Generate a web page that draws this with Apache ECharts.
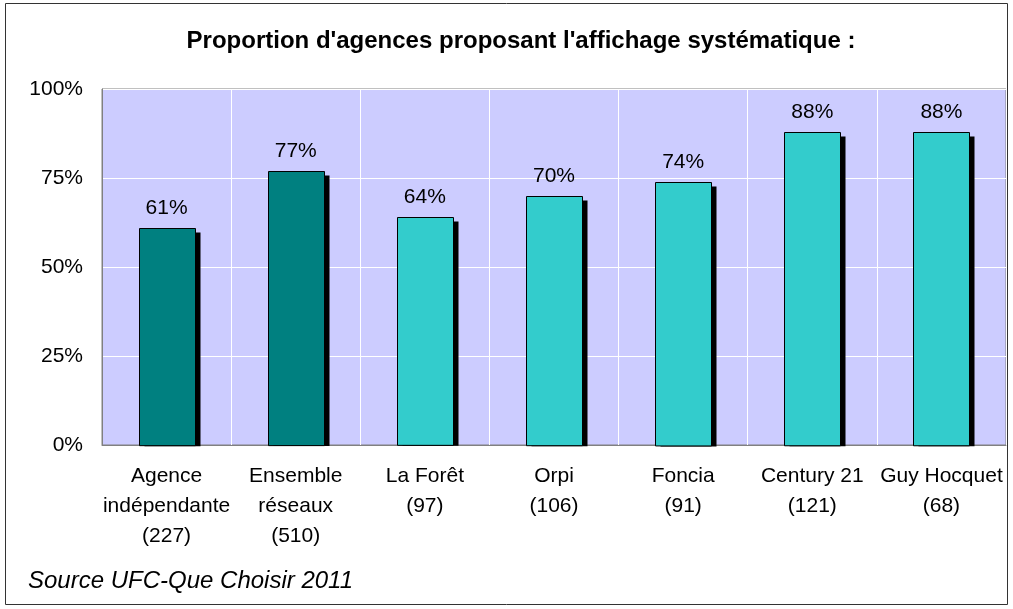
<!DOCTYPE html>
<html><head><meta charset="utf-8">
<script src="https://cdn.jsdelivr.net/npm/echarts@6/dist/echarts.min.js"></script>
<style>html,body{margin:0;padding:0;background:#fff}#c{width:1013px;height:609px}</style>
</head><body><div id="c"></div>
<script>
const categories = ["Agence\nindépendante\n(227)", "Ensemble\nréseaux\n(510)", "La Forêt\n(97)", "Orpi\n(106)", "Foncia\n(91)", "Century 21\n(121)", "Guy Hocquet\n(68)"];
const values = [61, 77, 64, 70, 74, 88, 88];
const barColors = ["#008080", "#008080", "#33CCCC", "#33CCCC", "#33CCCC", "#33CCCC", "#33CCCC"];
const yTicks = [0, 25, 50, 75, 100];

const chart = echarts.init(document.getElementById('c'), null, {renderer: 'canvas'});
const font = 'Liberation Sans, Arial, sans-serif';
const BAR_W = 56, SH = 5;
chart.setOption({
  animation: false,
  backgroundColor: '#fff',
  title: {
    text: "Proportion d'agences proposant l'affichage systématique :",
    left: 516, top: 24, textAlign: 'center',
    textStyle: {fontFamily: font, fontSize: 24, fontWeight: 'bold', color: '#000'}
  },
  graphic: [
    {type: 'rect', shape: {x: 5.5, y: 3.5, width: 1002, height: 601}, style: {fill: null, stroke: '#333', lineWidth: 1}, z: 100},
    {type: 'text', left: 28, top: 569, style: {text: 'Source UFC-Que Choisir 2011', fontFamily: font, fontSize: 24, fontStyle: 'italic', fill: '#000'}}
  ],
  grid: {left: 102, right: 7, top: 89, bottom: 164, show: true, backgroundColor: '#CCCCFF', borderColor: '#808080', borderWidth: 1},
  xAxis: {
    type: 'category', data: categories,
    axisTick: {show: false},
    axisLine: {lineStyle: {color: '#808080'}},
    splitLine: {show: true, lineStyle: {color: '#ffffff', width: 1}},
    axisLabel: {interval: 0, fontFamily: font, fontSize: 21, color: '#000', lineHeight: 30, margin: 16}
  },
  yAxis: {
    type: 'value', min: yTicks[0], max: yTicks[yTicks.length - 1], interval: 25,
    axisLine: {show: true, lineStyle: {color: '#808080'}},
    axisTick: {show: false},
    splitLine: {show: true, lineStyle: {color: '#ffffff', width: 1}},
    axisLabel: {formatter: v => v + '%', fontFamily: font, fontSize: 21, color: '#000', margin: 19}
  },
  series: [{
    type: 'custom',
    data: values.map((v, i) => [i, v]),
    encode: {x: 0, y: 1},
    clip: false,
    renderItem: function (params, api) {
      const i = api.value(0), v = api.value(1);
      const top = api.coord([i, v]);
      const base = api.coord([i, 0]);
      const x = Math.round(top[0] - BAR_W / 2) + 0.5;
      const y = Math.round(top[1]) + 0.5;
      const h = base[1] - top[1];
      return {
        type: 'group',
        children: [
          {type: 'rect', shape: {x: x + SH, y: y + SH - 1, width: BAR_W, height: h - SH + 1.5}, style: {fill: '#000'}},
          {type: 'rect', shape: {x: x, y: y, width: BAR_W, height: h}, style: {fill: barColors[i], stroke: '#000', lineWidth: 1}},
          {type: 'text', style: {text: v + '%', x: top[0], y: y - 10, align: 'center', verticalAlign: 'bottom', fontFamily: font, fontSize: 21, fill: '#000'}}
        ]
      };
    }
  }]
});
</script></body></html>
